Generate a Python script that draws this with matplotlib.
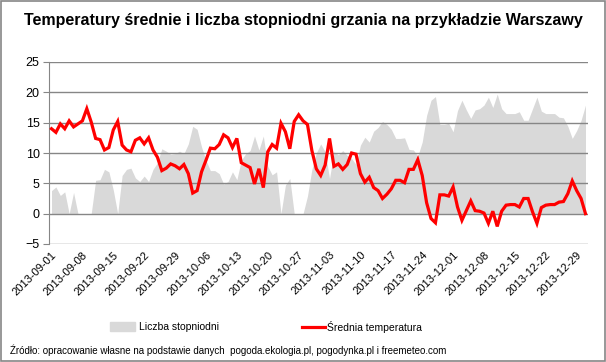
#!/usr/bin/env python3
# -*- coding: utf-8 -*-

import matplotlib
matplotlib.use("Agg")
import matplotlib.pyplot as plt
import matplotlib.patches as mpatches
from matplotlib.lines import Line2D
import pandas as pd

plt.rcParams["font.family"] = ["Liberation Sans", "DejaVu Sans"]

# Dates (daily, Sep-Dec 2013)
dates = pd.date_range("2013-09-01", "2013-12-31", freq="D")

# Average daily temperature in Warsaw [C]
srednia_temp = [
    14.0, 13.4, 14.8, 14.0, 15.3, 14.3, 14.8, 15.3, 17.3, 15.1,
    12.4, 12.2, 10.5, 10.9, 13.8, 15.2, 11.3, 10.5, 10.2, 12.1,
    12.5, 11.5, 12.5, 10.5, 9.3, 7.1, 7.5, 8.2, 7.9, 7.4,
    8.1, 6.6, 3.4, 3.8, 6.9, 8.8, 10.8, 10.7, 11.4, 13.0,
    12.5, 10.9, 12.4, 8.4, 8.0, 7.6, 4.9, 7.4, 4.3, 10.2,
    11.4, 10.8, 14.9, 13.5, 10.7, 15.2, 16.3, 15.3, 14.7, 10.4,
    7.4, 6.3, 8.0, 12.4, 7.8, 8.2, 7.3, 8.1, 10.0, 9.8,
    6.6, 5.2, 6.0, 4.3, 3.8, 2.5, 3.2, 4.1, 5.5, 5.5,
    5.1, 7.3, 7.3, 8.9, 6.3, 1.8, -0.8, -1.5, 3.1, 3.1,
    2.9, 4.4, 1.1, -1.1, 0.5, 2.1, 0.5, 0.4, 0.1, -1.6,
    0.4, -2.1, 0.4, 1.4, 1.5, 1.5, 1.1, 2.5, 2.5, 0.3,
    -1.6, 1.0, 1.4, 1.5, 1.5, 1.9, 2.0, 3.3, 5.4, 3.8,
    2.5, 0.0,
]

# Heating degree days
stopniodni = [
    3.8, 4.4, 3.0, 3.6, 0.0, 3.5, 0.0, 0.0, 0.0, 0.0,
    5.5, 5.6, 7.3, 6.9, 3.9, 0.0, 6.3, 7.3, 7.5, 5.9,
    5.3, 6.2, 5.3, 7.3, 8.4, 10.7, 10.3, 9.8, 9.9, 10.3,
    9.9, 11.5, 14.4, 13.9, 11.0, 8.8, 7.1, 7.1, 6.6, 4.9,
    5.3, 6.9, 5.6, 8.8, 9.9, 10.4, 12.8, 10.5, 12.8, 7.8,
    6.4, 6.9, 0.0, 4.7, 5.8, 0.0, 0.0, 0.0, 2.9, 7.3,
    10.0, 11.5, 10.2, 5.8, 10.2, 9.7, 10.4, 9.6, 9.1, 8.1,
    11.3, 12.6, 11.8, 13.6, 14.2, 15.2, 14.7, 13.9, 12.4, 12.4,
    12.5, 10.6, 10.5, 9.5, 11.8, 16.2, 18.7, 19.3, 14.7, 14.7,
    14.9, 13.5, 17.0, 18.7, 17.1, 15.7, 17.1, 17.3, 17.9, 19.2,
    17.5, 19.7, 17.3, 16.5, 16.5, 16.5, 16.8, 15.4, 15.4, 17.3,
    19.2, 16.9, 16.5, 16.5, 16.5, 15.9, 15.8, 14.4, 12.4, 13.7,
    15.4, 17.9,
]

tick_step = 7

x = list(range(len(dates)))
fig = plt.figure(figsize=(6.06, 3.62), dpi=100)
ax = fig.add_axes([49.3 / 606, 1 - 244 / 362, 538.4 / 606, 182 / 362])

# grey area + red line
ax.fill_between(x, 0, stopniodni, color="#d9d9d9", linewidth=0, zorder=1)
ax.plot(x, srednia_temp, color="#ff0000", linewidth=2.3, zorder=3,
        solid_joinstyle="miter")

ax.set_ylim(-5, 25)
ax.set_yticks(range(-5, 26, 5))
ax.set_xlim(-0.5, len(dates) - 0.5)
ax.yaxis.grid(True, color="#868686", linewidth=1.0)
for t in ax.yaxis.get_gridlines():
    t.set_zorder(2)

ticks = x[::tick_step]
ax.set_xticks(ticks)
ax.set_xticklabels([dates[i].strftime("%Y-%m-%d") for i in ticks],
                   rotation=45, ha="right", va="top", rotation_mode="anchor",
                   fontsize=8)
ax.tick_params(axis="x", length=0, pad=4)
ax.tick_params(axis="y", length=4, color="#868686", labelsize=9, pad=3)

for s in ["top", "right", "bottom"]:
    ax.spines[s].set_visible(False)
ax.spines["left"].set_color("#868686")

# title
fig.text(0.5, 1 - 20 / 362, "Temperatury średnie i liczba stopniodni grzania na przykładzie Warszawy",
         ha="center", va="center", fontsize=11.5, fontweight="bold")

# legend (two entries placed separately)
leg_y = 1 - 327 / 362
leg1 = fig.legend(handles=[mpatches.Patch(color="#d9d9d9", label="Liczba stopniodni")],
                  loc="center left", bbox_to_anchor=(110 / 606, leg_y), frameon=False,
                  fontsize=7.5, handlelength=2.4, handleheight=0.9, handletextpad=0.4,
                  borderpad=0, borderaxespad=0)
fig.legend(handles=[Line2D([0], [0], color="#ff0000", linewidth=2.3, label="Średnia temperatura")],
           loc="center left", bbox_to_anchor=(302 / 606, leg_y), frameon=False,
           fontsize=7.5, handlelength=2.2, handletextpad=0.2,
           borderpad=0, borderaxespad=0)

# source
fig.text(10 / 606, 1 - 350 / 362,
         "Źródło: opracowanie własne na podstawie danych  pogoda.ekologia.pl, pogodynka.pl i freemeteo.com",
         ha="left", va="center", fontsize=7)

# outer border
fig.patches.append(mpatches.Rectangle((0.002, 0.003), 0.996, 0.994, transform=fig.transFigure,
                                      fill=False, edgecolor="#868686", linewidth=1.2))

plt.savefig("out.png", dpi=100)
